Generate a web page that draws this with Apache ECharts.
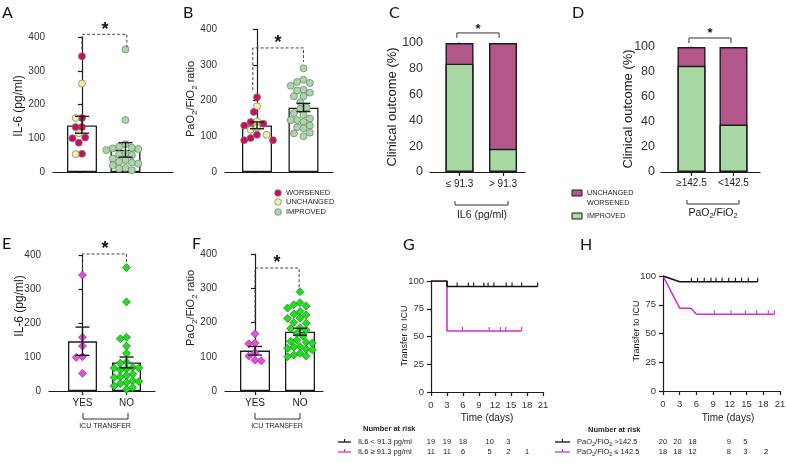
<!DOCTYPE html>
<html><head><meta charset="utf-8">
<script src="https://cdn.jsdelivr.net/npm/echarts@6/dist/echarts.min.js"></script>
<style>html,body{margin:0;padding:0;background:#fff}#c{width:786px;height:463px}</style>
</head><body><div id="c"></div>
<script>
// ================= DATA =================
// Panel A: IL-6 (pg/ml) by clinical outcome
const aWorsened  = [343, 160, 133, 133, 102, 100, 87, 54];
const aUnchanged = [262, 160, 115, 53];
const aImproved  = [363, 154, 82, 75, 72, 70, 68, 65, 55, 52, 50, 40, 35, 30, 28, 25, 20, 12, 10, 5];
const aMean = [138, 65], aErrLow = [115, 44], aErrHigh = [165, 87];
// Panel B: PaO2/FiO2 ratio by clinical outcome
const bWorsened  = [209, 168, 140, 135, 130, 104, 95, 89, 89];
const bUnchanged = [184, 142, 124, 118, 104];
const bImproved  = [290, 258, 252, 249, 241, 230, 228, 222, 212, 212, 195, 180, 176, 165, 160, 150, 145, 145, 140, 130, 125, 122, 110, 108, 100];
const bMean = [130, 180], bErrLow = [121, 169], bErrHigh = [140, 192];
// Panel C / D: clinical outcome (%)
const cCats = ['≤ 91.3', '> 91.3'];
const cImproved = [84, 18], cWorse = [16, 82];
const dCats = ['≥142.5', '<142.5'];
const dImproved = [85, 38], dWorse = [15, 62];
// Panel E / F: ICU transfer
const icuCats = ['YES', 'NO'];
const eYes = [341, 158, 132, 101, 99, 52];
const eNo  = [363, 262, 158, 154, 132, 111, 85, 82, 70, 68, 68, 65, 62, 50, 45, 42, 40, 30, 28, 25, 22, 15, 10, 5];
const eMean = [146, 84], eErrLow = [105, 68], eErrHigh = [188, 100];
const fYes = [167, 140, 138, 112, 102, 90, 88];
const fNo  = [290, 258, 252, 248, 242, 232, 225, 222, 213, 212, 200, 198, 185, 182, 178, 168, 160, 148, 145, 142, 140, 130, 128, 125, 122, 120, 110, 105, 102, 100];
const fMean = [118, 173], fErrLow = [105, 163], fErrHigh = [130, 183];
// Panel G: Kaplan-Meier, IL6
const gLowT  = [0, 3, 3, 20],  gLowS  = [100, 100, 95, 95];
const gHighT = [0, 3, 3, 17],  gHighS = [100, 100, 55, 55];
const gLowCens  = [4.9, 7, 8, 9.9, 10.7, 11.8, 14.1, 15.2, 17, 20];
const gHighCens = [5.9, 10.9, 13, 14, 17];
const gRiskTimes = [0, 3, 6, 11, 14.5, 18];
const gRiskLow  = [19, 19, 18, 10, 3, null];
const gRiskHigh = [11, 11, 6, 5, 2, 1];
// Panel H: Kaplan-Meier, PaO2/FiO2
const hHighT = [0, 3, 17],        hHighS = [100, 95, 95];
const hLowT  = [0, 3, 5, 6, 20],  hLowS  = [100, 72, 72, 66.7, 66.7];
const hHighCens = [5.1, 6.2, 7.4, 8.6, 9.5, 10.6, 11.8, 13, 14.1, 15.3, 17];
const hLowCens  = [9.2, 12.2, 14.8, 16.8, 18.9, 20];
const hRiskTimes = [0, 2.6, 5.3, 11.8, 14.8, 18.5];
const hRiskHigh = [20, 20, 18, 9, 5, null];
const hRiskLow  = [18, 18, 12, 8, 3, 2];

// ================= STYLE / LAYOUT =================
const FONT = '"Liberation Sans", Arial, sans-serif';
const INK = '#1c1c1c';
const C_WORSE = '#cc0d5b', C_UNCH = '#f7f09c', C_IMPR = '#a6d9a3';
const C_PURP = '#b3578b', C_GRN2 = '#a8d9a4';
const C_MAG = '#de52de', C_LIME = '#22dd22', C_KMMAG = '#d030d0';

const P = {
  A: {l: 53,  t: 37,  r: 173, b: 172, c0: 82,    c1: 125.5},
  B: {l: 225, t: 29,  r: 333, b: 172, c0: 257,   c1: 303.5},
  C: {l: 430, t: 43,  r: 525, b: 172, c0: 459.5, c1: 503},
  D: {l: 661, t: 47,  r: 760, b: 172, c0: 691.5, c1: 733.5},
  E: {l: 49,  t: 255, r: 155, b: 391, c0: 82.5,  c1: 126.5},
  F: {l: 225, t: 254, r: 323, b: 391, c0: 255,   c1: 300},
  G: {l: 431, t: 281, r: 543, b: 392},
  H: {l: 663, t: 276, r: 780, b: 391}
};
const keys = ['A','B','C','D','E','F','G','H'];

const chart = echarts.init(document.getElementById('c'), null, {renderer: 'canvas'});

function barX(gi, k, cats, fs, margin) {
  const p = P[k], u = p.c1 - p.c0;
  return {
    type: 'value', gridIndex: gi, min: (p.l - p.c0) / u, max: (p.r - p.c0) / u,
    axisLine: {show: true, onZero: false, lineStyle: {color: INK, width: 1.2}},
    axisTick: {show: !!cats, customValues: [0, 1], length: 4, lineStyle: {color: INK, width: 1.2}},
    axisLabel: {show: !!cats, customValues: [0, 1], formatter: v => cats ? cats[Math.round(v)] : '',
      fontSize: fs || 10, color: INK, margin: margin || 7, fontFamily: FONT},
    splitLine: {show: false}
  };
}
function yAx(gi, max, interval, fs, margin) {
  return {
    type: 'value', gridIndex: gi, min: 0, max, interval,
    axisLine: {show: true, lineStyle: {color: INK, width: 1.2}},
    axisTick: {show: true, length: 4, lineStyle: {color: INK, width: 1.2}},
    axisLabel: {fontSize: fs, color: '#333', margin, fontFamily: FONT},
    splitLine: {show: false}
  };
}
function kmX(gi) {
  return {
    type: 'value', gridIndex: gi, min: 0, max: 21, interval: 3,
    axisLine: {show: true, onZero: false, lineStyle: {color: INK, width: 1.2}},
    axisTick: {show: true, length: 4, lineStyle: {color: INK, width: 1.2}},
    axisLabel: {fontSize: 9.5, color: '#333', margin: 8, fontFamily: FONT},
    splitLine: {show: false}
  };
}

function barSeries(gi, means, w) {
  return {type: 'bar', xAxisIndex: gi, yAxisIndex: gi, barWidth: w, z: 2,
    data: means.map((m, i) => [i, m]),
    itemStyle: {color: '#fff', borderColor: INK, borderWidth: 1.3}};
}
function errSeries(gi, lo, hi, cap) {
  return {type: 'custom', xAxisIndex: gi, yAxisIndex: gi, z: 6, clip: false,
    data: lo.map((l, i) => [i, l, hi[i]]),
    renderItem(params, api) {
      const x = api.value(0);
      const a = api.coord([x, api.value(1)]), b = api.coord([x, api.value(2)]);
      const st = {stroke: INK, lineWidth: 1.4};
      return {type: 'group', children: [
        {type: 'line', shape: {x1: a[0], y1: a[1], x2: b[0], y2: b[1]}, style: st},
        {type: 'line', shape: {x1: b[0] - cap, y1: b[1], x2: b[0] + cap, y2: b[1]}, style: st},
        {type: 'line', shape: {x1: a[0] - cap, y1: a[1], x2: a[0] + cap, y2: a[1]}, style: st}
      ]};
    }};
}
function bracketSeries(gi, spec, dashed) {
  return {type: 'custom', xAxisIndex: gi, yAxisIndex: gi, z: 7, clip: false,
    data: [spec],
    renderItem(params, api) {
      const x1 = api.value(0), x2 = api.value(1), yt = api.value(2), yl = api.value(3), yr = api.value(4);
      const p = [api.coord([x1, yl]), api.coord([x1, yt]), api.coord([x2, yt]), api.coord([x2, yr])];
      return {type: 'polyline', shape: {points: p},
        style: {stroke: dashed ? '#444' : '#333', lineWidth: 1, fill: null, lineDash: dashed ? [3, 2] : null}};
    }};
}
// stacked outcome bars: the purple segment is drawn to the cumulative total, green overlaid from 0
function stackPair(gi, improved, worse) {
  const total = improved.map((v, i) => v + worse[i]);
  const base = {type: 'bar', xAxisIndex: gi, yAxisIndex: gi, barWidth: 28, barGap: '-100%'};
  return [
    Object.assign({}, base, {z: 2, data: total.map((v, i) => [i, v]),
      itemStyle: {color: C_PURP, borderColor: INK, borderWidth: 1.4}}),
    Object.assign({}, base, {z: 3, data: improved.map((v, i) => [i, v]),
      itemStyle: {color: C_GRN2, borderColor: INK, borderWidth: 1.4}})
  ];
}
function kmLine(gi, T, S, color, z) {
  return {type: 'line', xAxisIndex: gi, yAxisIndex: gi, showSymbol: false, z,
    data: T.map((t, i) => [t, S[i]]), lineStyle: {color, width: 1.6}, itemStyle: {color}};
}
function survAt(T, S, t) { let s = S[0]; for (let i = 0; i < T.length; i++) if (T[i] <= t) s = S[i]; return s; }
function censSeries(gi, T, S, times, color, z) {
  return {type: 'custom', xAxisIndex: gi, yAxisIndex: gi, z, clip: false,
    data: times.map(t => [t, survAt(T, S, t)]),
    renderItem(params, api) {
      const p = api.coord([api.value(0), api.value(1)]);
      return {type: 'line', shape: {x1: p[0], y1: p[1], x2: p[0], y2: p[1] - 4}, style: {stroke: color, lineWidth: 1.1}};
    }};
}

const option = {
  animation: false,
  backgroundColor: '#fff',
  textStyle: {fontFamily: FONT},
  grid: keys.map(k => ({left: P[k].l, top: P[k].t, width: P[k].r - P[k].l, height: P[k].b - P[k].t,
    containLabel: false, outerBoundsMode: 'none'})),
  xAxis: [
    barX(0, 'A'), barX(1, 'B'), barX(2, 'C', cCats, 10, 7), barX(3, 'D', dCats, 10, 6),
    barX(4, 'E', icuCats, 10, 7), barX(5, 'F', icuCats, 10, 7), kmX(6), kmX(7)
  ],
  yAxis: [
    yAx(0, 400, 100, 10, 8), yAx(1, 400, 100, 10, 8), yAx(2, 100, 20, 12.5, 7), yAx(3, 100, 20, 12.5, 6),
    yAx(4, 400, 100, 10, 8), yAx(5, 400, 100, 10, 8), yAx(6, 100, 25, 9.5, 7), yAx(7, 100, 25, 9.5, 7)
  ],
  series: [
    barSeries(0, aMean, 30), errSeries(0, aErrLow, aErrHigh, 7), bracketSeries(0, [0, 1.03, 408, 364, 370], true),
    barSeries(1, bMean, 30), errSeries(1, bErrLow, bErrHigh, 7), bracketSeries(1, [-0.09, 1.0, 347, 229, 308], true),
    ...stackPair(2, cImproved, cWorse), bracketSeries(2, [-0.06, 0.91, 107.8, 104, 104], false),
    ...stackPair(3, dImproved, dWorse), bracketSeries(3, [-0.06, 0.94, 107.2, 103.2, 103.2], false),
    barSeries(4, eMean, 29), errSeries(4, eErrLow, eErrHigh, 7), bracketSeries(4, [0, 1.0, 403, 356, 376], true),
    barSeries(5, fMean, 30), errSeries(5, fErrLow, fErrHigh, 7), bracketSeries(5, [0, 0.98, 359, 199, 295], true),
    kmLine(6, gHighT, gHighS, C_KMMAG, 3), kmLine(6, gLowT, gLowS, '#111', 4),
    censSeries(6, gHighT, gHighS, gHighCens, C_KMMAG, 3), censSeries(6, gLowT, gLowS, gLowCens, '#111', 4),
    kmLine(7, hLowT, hLowS, C_KMMAG, 3), kmLine(7, hHighT, hHighS, '#111', 4),
    censSeries(7, hLowT, hLowS, hLowCens, C_KMMAG, 3), censSeries(7, hHighT, hHighS, hHighCens, '#111', 4)
  ]
};
chart.setOption(option);

// ---------- swarm layout through the axes' scales ----------
function swarm(gi, pts, cx, d, step) {
  const sorted = pts.slice().sort((a, b) => b.v - a.v);
  const c0 = chart.convertToPixel({gridIndex: gi}, [cx, 0]);
  const placed = [];
  for (const p of sorted) {
    const py = chart.convertToPixel({gridIndex: gi}, [cx, p.v])[1];
    for (let k = 0; k < 60; k++) {
      const off = (k === 0 ? 0 : (k % 2 ? -1 : 1) * Math.ceil(k / 2)) * step;
      const px = c0[0] + off;
      if (placed.every(q => (q.x - px) ** 2 + (q.y - py) ** 2 >= d * d)) { placed.push({x: px, y: py, p}); break; }
    }
  }
  return placed.map(q => ({
    value: [chart.convertFromPixel({gridIndex: gi}, [q.x, q.y])[0], q.p.v],
    itemStyle: {color: q.p.color}
  }));
}
const tag = (arr, color) => arr.map(v => ({v, color}));
function scat(gi, data, symbol, size, border) {
  return {type: 'scatter', xAxisIndex: gi, yAxisIndex: gi, symbol, symbolSize: size, z: 5, clip: false,
    data, itemStyle: {borderColor: border, borderWidth: 0.7, opacity: 1}};
}
const D_C = 6.4, S_C = 3.2, D_D = 6.2, S_D = 3.1;
const extra = [
  scat(0, swarm(0, tag(aWorsened, C_WORSE).concat(tag(aUnchanged, C_UNCH)), 0, D_C, S_C), 'circle', 7, '#777'),
  scat(0, swarm(0, tag(aImproved, C_IMPR), 1, D_C, S_C), 'circle', 7, '#777'),
  scat(1, swarm(1, tag(bWorsened, C_WORSE).concat(tag(bUnchanged, C_UNCH)), 0, D_C, S_C), 'circle', 7, '#777'),
  scat(1, swarm(1, tag(bImproved, C_IMPR), 1, D_C, S_C), 'circle', 7, '#777'),
  scat(4, swarm(4, tag(eYes, C_MAG), 0, D_D, S_D), 'diamond', 8, '#a020a0'),
  scat(4, swarm(4, tag(eNo, C_LIME), 1, D_D, S_D), 'diamond', 8, '#0c8a0c'),
  scat(5, swarm(5, tag(fYes, C_MAG), 0, D_D, S_D), 'diamond', 8, '#a020a0'),
  scat(5, swarm(5, tag(fNo, C_LIME), 1, D_D, S_D), 'diamond', 8, '#0c8a0c')
];

// ---------- texts & annotations ----------
const G = [];
function txt(x, y, text, o) {
  o = o || {};
  G.push({type: 'text', x, y, rotation: o.rot || 0, silent: true, z: 100,
    style: {text, fill: o.fill || INK, fontSize: o.fs || 10, fontFamily: o.ff || FONT, fontWeight: o.fw || 'normal',
      align: o.align || 'center', verticalAlign: o.va || 'middle', lineHeight: o.lh,
      rich: o.rich}});
}
function poly(points, o) {
  o = o || {};
  G.push({type: 'polyline', silent: true, z: 100, shape: {points},
    style: {stroke: o.stroke || '#333', lineWidth: o.lw || 1, fill: null}});
}
const sub = fs => ({s: {fontSize: fs, fontFamily: FONT, fill: INK, verticalAlign: 'bottom', lineHeight: fs + 1}});
const R90 = Math.PI / 2;

// panel letters
[['A', 2, 5], ['B', 183, 5], ['C', 389, 5], ['D', 572, 5], ['E', 2, 236], ['F', 192, 236], ['G', 403, 237], ['H', 580, 237]]
  .forEach(([t, x, y]) => txt(x, y, t, {fs: 16, ff: 'Lato, "Open Sans", sans-serif', align: 'left', va: 'top', fill: '#111'}));

// axis titles
txt(19, 106, 'IL-6 (pg/ml)', {rot: R90, fs: 12});
txt(191, 99, 'PaO{s|2}/FiO{s|2} ratio', {rot: R90, fs: 11, lh: 15, rich: sub(8)});
txt(392, 107, 'Clinical outcome (%)', {rot: R90, fs: 13});
txt(628, 109, 'Clinical outcome (%)', {rot: R90, fs: 13});
txt(20, 306, 'IL-6 (pg/ml)', {rot: R90, fs: 12});
txt(191, 308, 'PaO{s|2}/FiO{s|2} ratio', {rot: R90, fs: 11, lh: 15, rich: sub(8)});
txt(405, 336, 'Transfer to ICU', {rot: R90, fs: 9});
txt(637, 331, 'Transfer to ICU', {rot: R90, fs: 9});
txt(487, 418, 'Time (days)', {fs: 10});
txt(728, 418, 'Time (days)', {fs: 10});

// significance stars (asterisk glyph sits high in its em box)
[[105, 30, 18], [278, 43, 18], [478, 29, 13], [710, 33, 13], [105, 249, 18], [277, 263, 18]]
  .forEach(([x, y, fs]) => txt(x, y, '*', {fs, fw: 'bold', va: 'middle', fill: '#111'}));

// group brackets under axes
poly([[455, 201], [455, 205], [508, 205], [508, 201]]);
txt(482, 215, 'IL6 (pg/ml)', {fs: 10.5});
poly([[687, 200], [687, 204], [739, 204], [739, 200]]);
txt(713, 213, 'PaO{s|2}/FiO{s|2}', {fs: 10.5, lh: 14, rich: sub(7.5)});
poly([[83, 413], [83, 419], [128, 419], [128, 413]]);
txt(105, 426, 'ICU TRANSFER', {fs: 7});
poly([[255, 413], [255, 419], [300, 419], [300, 413]]);
txt(277, 426, 'ICU TRANSFER', {fs: 7});

// legend panel B
[[C_WORSE, 'WORSENED', 193], [C_UNCH, 'UNCHANGED', 202], [C_IMPR, 'IMPROVED', 212]].forEach(([c, t, y]) => {
  G.push({type: 'circle', silent: true, z: 100, shape: {cx: 278, cy: y, r: 3.3}, style: {fill: c, stroke: '#777', lineWidth: 0.7}});
  txt(286, y, t, {fs: 7.5, align: 'left'});
});
// legend panels C/D
G.push({type: 'rect', silent: true, z: 100, shape: {x: 572, y: 190, width: 10, height: 6}, style: {fill: C_PURP, stroke: INK, lineWidth: 1}});
txt(587, 193, 'UNCHANGED', {fs: 7.2, align: 'left'});
txt(587, 203, 'WORSENED', {fs: 7.2, align: 'left'});
G.push({type: 'rect', silent: true, z: 100, shape: {x: 572, y: 213, width: 10, height: 6}, style: {fill: C_GRN2, stroke: INK, lineWidth: 1}});
txt(587, 216, 'IMPROVED', {fs: 7.2, align: 'left'});

// number-at-risk tables
function riskLegend(x0, x1, y, color) {
  poly([[x0, y], [x1, y]], {stroke: color, lw: 1.3});
  poly([[(x0 + x1) / 2, y - 3], [(x0 + x1) / 2, y]], {stroke: color, lw: 1.1});
}
txt(363, 429, 'Number at risk', {fs: 7.5, fw: 'bold', align: 'left'});
riskLegend(338, 351, 442, '#111'); txt(358, 442, 'IL6 < 91.3 pg/ml', {fs: 7.5, align: 'left'});
riskLegend(338, 351, 452, C_KMMAG); txt(358, 452, 'IL6 ≥ 91.3 pg/ml', {fs: 7.5, align: 'left'});
txt(588, 430, 'Number at risk', {fs: 7.5, fw: 'bold', align: 'left'});
riskLegend(555, 570, 442, '#111'); txt(577, 442, 'PaO{s|2}/FiO{s|2} >142.5', {fs: 7.5, align: 'left', lh: 10, rich: sub(5.5)});
riskLegend(555, 570, 452, C_KMMAG); txt(577, 452, 'PaO{s|2}/FiO{s|2} ≤ 142.5', {fs: 7.5, align: 'left', lh: 10, rich: sub(5.5)});
function riskRow(axisIdx, times, vals, y) {
  times.forEach((t, i) => {
    if (vals[i] == null) return;
    const x = chart.convertToPixel({xAxisIndex: axisIdx}, t);
    txt(x, y, String(vals[i]), {fs: 7.5});
  });
}
riskRow(6, gRiskTimes, gRiskLow, 442);
riskRow(6, gRiskTimes, gRiskHigh, 452);
riskRow(7, hRiskTimes, hRiskHigh, 442);
riskRow(7, hRiskTimes, hRiskLow, 452);

chart.setOption({series: option.series.concat(extra), graphic: G});
</script></body></html>
